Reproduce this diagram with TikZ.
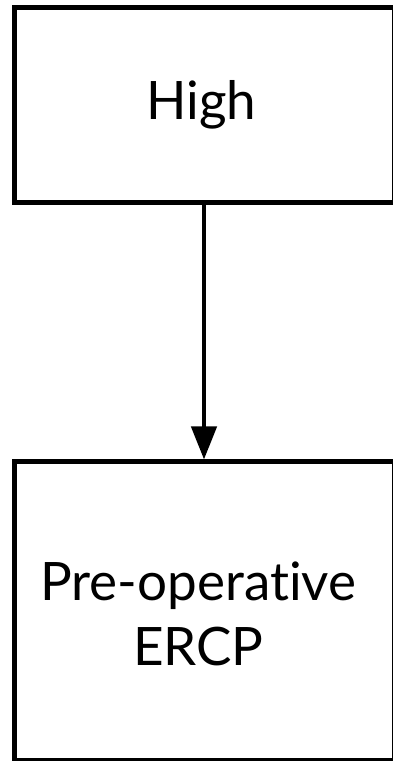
\documentclass[tikz,border=0pt]{standalone}
\usepackage{fontspec}
\setmainfont{Lato}[Ligatures={NoCommon}]
\usetikzlibrary{arrows.meta}
\begin{document}
\begin{tikzpicture}[x=1pt,y=1pt,
  box/.style={draw=black, line width=5pt, rectangle, inner sep=0pt},
  lbl/.style={inner sep=0pt, align=center, font=\fontsize{53}{65}\selectfont},
  conn/.style={line width=4.5pt, -{Triangle[length=33pt,width=25pt]}}]
\useasboundingbox (0,0) rectangle (392,761);
\fill[white] (0,0) rectangle (392,761);
\node[box, minimum width=379.75pt, minimum height=195pt] (high) at (204.375,655.5) {};
\node[box, minimum width=379.75pt, minimum height=298.5pt] (ercp) at (204.375,149.75) {};
\node[lbl] (hightext) at ([xshift=-3pt,yshift=1pt]high.center) {High};
\node[lbl] (ercptext) at ([xshift=-6pt,yshift=-3pt]ercp.center) {Pre-operative\\ERCP};
\draw[conn] (high.south -| 204,0) -- (ercp.north -| 204,0);
\end{tikzpicture}
\end{document}
